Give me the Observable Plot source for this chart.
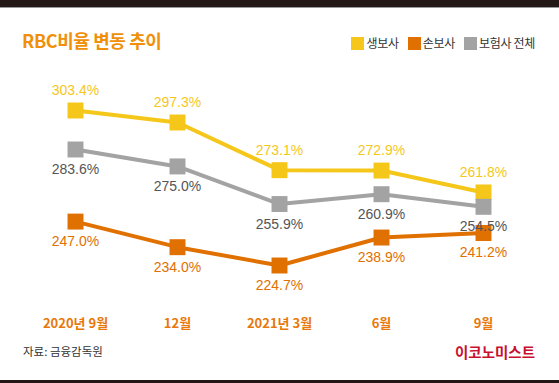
<!DOCTYPE html>
<html><head><meta charset="utf-8">
<script src="https://cdn.jsdelivr.net/npm/d3@7"></script>
<script src="https://cdn.jsdelivr.net/npm/@observablehq/plot@0.6"></script>
<style>
body{margin:0;background:#fff;}
#wrap{position:relative;width:559px;height:383px;overflow:hidden;font-family:"Noto Sans CJK KR","Noto Sans",sans-serif;}
#topbar{position:absolute;left:0;top:0;width:559px;height:7px;background:#231815;border-bottom:1px solid #9a9a9a;}
#botbar{position:absolute;left:0;top:380px;width:559px;height:3px;background:#231815;}
#title{position:absolute;left:22px;top:28px;font-size:18px;font-weight:bold;color:#F0900A;line-height:24px;letter-spacing:-0.4px;}
#legend{position:absolute;right:24px;top:34px;display:flex;align-items:center;font-size:12px;color:#333;line-height:18px;letter-spacing:-0.3px;}
#legend span.sw{display:inline-block;width:13px;height:13px;margin-right:2px;}
#legend .it{display:flex;align-items:center;margin-left:9px;}
#chart{position:absolute;left:0;top:65px;}
#source{position:absolute;left:23px;top:343px;font-size:11.5px;color:#333;line-height:17px;}
#brand{position:absolute;right:24px;top:341px;font-size:14.5px;font-weight:bold;color:#C8102E;line-height:22px;}
</style></head>
<body><div id="wrap">
<div id="topbar"></div>
<div id="title">RBC비율 변동 추이</div>
<div id="legend"></div>
<div id="chart"></div>
<div id="source">자료: 금융감독원</div>
<div id="brand">이코노미스트</div>
<div id="botbar"></div>
</div>
<script>
const periods = ["2020년 9월", "12월", "2021년 3월", "6월", "9월"];
const seriesNames = ["생보사", "손보사", "보험사 전체"];
const lifeValues = [303.4, 297.3, 273.1, 272.9, 261.8];
const nonlifeValues = [247.0, 234.0, 224.7, 238.9, 241.2];
const totalValues = [283.6, 275.0, 255.9, 260.9, 254.5];
const colors = ["#F5C71A", "#E07000", "#A3A3A3"];
const labelColors = ["#F5C71A", "#E07000", "#555555"];

const rows = [];
[lifeValues, nonlifeValues, totalValues].forEach((vals, si) => {
  vals.forEach((v, i) => rows.push({series: seriesNames[si], period: periods[i], value: v, si}));
});
const drawOrder = [0, 2, 1];

const legend = document.getElementById("legend");
seriesNames.forEach((n, i) => {
  const it = document.createElement("div");
  it.className = "it";
  it.innerHTML = `<span class="sw" style="background:${colors[i]}"></span>${n}`;
  legend.appendChild(it);
});

const marks = [];
for (const si of drawOrder) {
  const d = rows.filter(r => r.si === si);
  marks.push(Plot.line(d, {x: "period", y: "value", stroke: colors[si], strokeWidth: 4}));
  marks.push(Plot.dot(d, {x: "period", y: "value", symbol: "square", r: 9, fill: colors[si], stroke: "none"}));
}
for (const si of drawOrder) {
  const d = rows.filter(r => r.si === si);
  marks.push(Plot.text(d, {
    x: "period", y: "value", text: r => r.value.toFixed(1) + "%",
    dy: si === 0 ? -20 : 20, fill: labelColors[si],
    fontSize: 14, fontFamily: "Liberation Sans, Arial, sans-serif"
  }));
}
marks.push(Plot.axisX({tickSize: 0, tickPadding: 3, fontSize: 13, fontWeight: "bold", fill: "#E8780A", label: null, fontFamily: "Noto Sans CJK KR"}));

const chart = Plot.plot({
  width: 559,
  height: 280,
  marginTop: 0, marginBottom: 30, marginLeft: 0, marginRight: 0,
  x: {type: "point", domain: periods, range: [75, 483], padding: 0},
  y: {domain: [224.7, 303.4], range: [200, 45], axis: null},
  style: {background: "transparent", overflow: "visible"},
  marks
});
document.getElementById("chart").appendChild(chart);
</script>
</body></html>
